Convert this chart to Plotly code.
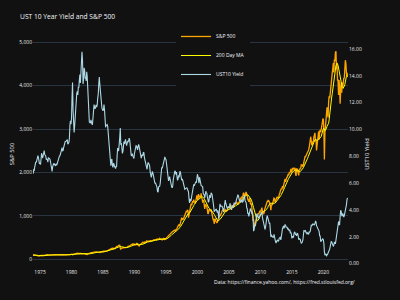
import pandas as pd
import plotly.graph_objects as go

# Monthly 10-year Treasury yield (%), Nov 1973 - Nov 2023
ust10 = [
    6.73, 6.74,
    6.99, 6.96, 7.21, 7.51, 7.58, 7.54, 7.81, 8.04, 8.04, 7.90, 7.68, 7.43,
    7.50, 7.39, 7.73, 8.23, 8.06, 7.86, 8.06, 8.40, 8.43, 8.14, 8.05, 8.00,
    7.74, 7.79, 7.73, 7.56, 7.90, 7.86, 7.83, 7.77, 7.59, 7.41, 7.29, 6.87,
    7.21, 7.39, 7.46, 7.37, 7.46, 7.28, 7.33, 7.40, 7.34, 7.52, 7.58, 7.69,
    7.96, 8.03, 8.04, 8.15, 8.35, 8.46, 8.64, 8.41, 8.42, 8.64, 8.81, 9.01,
    9.10, 9.10, 9.12, 9.18, 9.25, 8.91, 8.95, 9.03, 9.33, 10.30, 10.65, 10.39,
    10.80, 12.41, 13.50, 11.47, 10.18, 9.78, 10.25, 11.10, 11.51, 11.75, 12.68, 12.84,
    12.57, 13.19, 13.12, 13.68, 14.10, 13.47, 14.28, 14.94, 15.80, 15.15, 13.39, 13.72,
    14.59, 14.43, 13.86, 13.87, 13.62, 14.30, 13.95, 13.06, 12.34, 10.91, 10.55, 10.54,
    10.46, 10.72, 10.51, 10.40, 10.38, 10.85, 11.38, 11.85, 11.65, 11.54, 11.69, 11.83,
    11.67, 11.84, 12.32, 12.63, 13.41, 13.90, 13.36, 12.72, 12.52, 12.16, 11.57, 11.50,
    11.38, 11.51, 11.86, 11.43, 10.85, 10.16, 10.31, 10.33, 10.37, 10.24, 9.78, 9.26,
    9.19, 8.70, 7.78, 7.30, 7.71, 7.80, 7.30, 7.17, 7.45, 7.43, 7.25, 7.11,
    7.08, 7.25, 7.25, 8.02, 8.61, 8.40, 8.45, 8.76, 9.42, 10.10, 8.86, 8.99,
    8.67, 8.21, 8.37, 8.72, 9.09, 8.92, 9.06, 9.26, 8.98, 8.80, 8.96, 9.11,
    9.09, 9.17, 9.36, 9.18, 8.86, 8.28, 8.02, 8.11, 8.19, 8.01, 7.87, 7.84,
    8.21, 8.47, 8.59, 8.79, 8.76, 8.48, 8.47, 8.75, 8.89, 8.72, 8.39, 8.08,
    8.09, 7.85, 8.11, 8.04, 8.07, 8.28, 8.27, 7.90, 7.65, 7.53, 7.42, 7.09,
    7.03, 7.34, 7.54, 7.48, 7.39, 7.26, 6.84, 6.59, 6.42, 6.59, 6.87, 6.77,
    6.60, 6.26, 5.98, 5.97, 6.04, 5.96, 5.81, 5.68, 5.36, 5.33, 5.72, 5.77,
    5.75, 5.97, 6.48, 6.97, 7.18, 7.10, 7.30, 7.24, 7.46, 7.74, 7.96, 7.81,
    7.78, 7.47, 7.20, 7.06, 6.63, 6.17, 6.28, 6.49, 6.20, 6.04, 5.93, 5.71,
    5.65, 5.81, 6.27, 6.51, 6.74, 6.91, 6.87, 6.64, 6.83, 6.53, 6.20, 6.30,
    6.58, 6.42, 6.69, 6.89, 6.71, 6.49, 6.22, 6.30, 6.21, 6.03, 5.88, 5.81,
    5.54, 5.57, 5.65, 5.64, 5.65, 5.50, 5.46, 5.34, 4.81, 4.53, 4.83, 4.65,
    4.72, 5.00, 5.23, 5.18, 5.54, 5.90, 5.79, 5.94, 5.92, 6.11, 6.03, 6.28,
    6.66, 6.52, 6.26, 5.99, 6.44, 6.10, 6.05, 5.83, 5.80, 5.74, 5.72, 5.24,
    5.16, 5.10, 4.89, 5.14, 5.39, 5.28, 5.24, 4.97, 4.73, 4.57, 4.65, 5.09,
    5.04, 4.91, 5.28, 5.21, 5.16, 4.93, 4.65, 4.26, 3.87, 3.94, 4.05, 4.03,
    4.05, 3.90, 3.81, 3.96, 3.57, 3.33, 3.98, 4.45, 4.27, 4.29, 4.30, 4.27,
    4.15, 4.08, 3.83, 4.35, 4.72, 4.73, 4.50, 4.28, 4.13, 4.10, 4.19, 4.23,
    4.22, 4.17, 4.50, 4.34, 4.14, 4.00, 4.18, 4.26, 4.20, 4.46, 4.54, 4.47,
    4.42, 4.57, 4.72, 4.99, 5.11, 5.11, 5.09, 4.88, 4.72, 4.73, 4.60, 4.56,
    4.76, 4.72, 4.56, 4.69, 4.75, 5.10, 5.00, 4.67, 4.52, 4.53, 4.15, 4.10,
    3.74, 3.74, 3.51, 3.68, 3.88, 4.10, 4.01, 3.89, 3.69, 3.81, 3.53, 2.42,
    2.52, 2.87, 2.82, 2.93, 3.29, 3.72, 3.56, 3.59, 3.40, 3.39, 3.40, 3.59,
    3.73, 3.69, 3.73, 3.85, 3.42, 3.20, 3.01, 2.70, 2.65, 2.54, 2.76, 3.29,
    3.39, 3.58, 3.41, 3.46, 3.17, 3.00, 3.00, 2.30, 1.98, 2.15, 2.01, 1.98,
    1.97, 1.97, 2.17, 2.05, 1.80, 1.62, 1.53, 1.68, 1.72, 1.75, 1.65, 1.72,
    1.91, 1.98, 1.96, 1.76, 1.93, 2.30, 2.58, 2.74, 2.81, 2.62, 2.72, 2.90,
    2.86, 2.71, 2.72, 2.71, 2.56, 2.60, 2.54, 2.42, 2.53, 2.30, 2.33, 2.21,
    1.88, 1.98, 2.04, 1.94, 2.20, 2.36, 2.32, 2.17, 2.17, 2.07, 2.26, 2.24,
    2.09, 1.78, 1.89, 1.81, 1.81, 1.64, 1.50, 1.56, 1.63, 1.76, 2.14, 2.49,
    2.43, 2.42, 2.48, 2.30, 2.30, 2.19, 2.32, 2.21, 2.20, 2.36, 2.35, 2.40,
    2.58, 2.86, 2.84, 2.87, 2.98, 2.91, 2.89, 2.89, 3.00, 3.15, 3.12, 2.83,
    2.71, 2.68, 2.57, 2.53, 2.40, 2.07, 2.06, 1.63, 1.70, 1.71, 1.81, 1.86,
    1.76, 1.50, 0.87, 0.66, 0.67, 0.73, 0.55, 0.65, 0.68, 0.79, 0.87, 0.93,
    1.08, 1.26, 1.61, 1.64, 1.62, 1.52, 1.32, 1.28, 1.37, 1.58, 1.56, 1.47,
    1.76, 1.93, 2.13, 2.75, 2.90, 3.14, 2.90, 2.90, 3.52, 3.98, 3.89, 3.62,
    3.53, 3.75, 3.66, 3.46, 3.57, 3.75, 3.90, 4.17, 4.38, 4.75, 4.90,
]

# Monthly S&P 500 close, Nov 1973 - Nov 2023
sp500 = [
    95.96, 97.55,
    96.57, 96.22, 93.98, 90.31, 87.28, 86.00, 79.31, 72.15, 63.54, 73.90, 69.97, 68.56,
    76.98, 81.59, 83.36, 87.30, 91.15, 95.19, 88.75, 86.88, 83.87, 89.04, 91.24, 90.19,
    100.86, 99.71, 102.77, 101.64, 100.18, 104.28, 103.44, 102.91, 105.24, 102.90, 102.10, 107.46,
    102.03, 99.82, 98.42, 98.44, 96.12, 100.48, 98.85, 96.77, 96.53, 92.34, 94.83, 95.10,
    89.25, 87.04, 89.21, 96.83, 97.24, 95.53, 100.68, 103.29, 102.54, 93.15, 94.70, 96.11,
    99.93, 96.28, 101.59, 101.76, 99.08, 102.91, 103.81, 109.32, 109.32, 101.82, 106.16, 107.94,
    114.16, 113.66, 102.09, 106.29, 111.24, 114.24, 121.67, 122.38, 125.46, 127.47, 140.52, 135.76,
    129.55, 131.27, 136.00, 132.81, 132.59, 131.21, 130.92, 122.79, 116.18, 121.89, 126.35, 122.55,
    120.40, 113.11, 111.96, 116.44, 111.88, 109.61, 107.09, 119.51, 120.42, 133.71, 138.54, 140.64,
    145.30, 148.06, 152.96, 164.42, 162.39, 168.11, 162.56, 164.40, 166.07, 163.55, 166.40, 164.93,
    163.41, 157.06, 159.18, 160.05, 150.55, 153.18, 150.66, 166.68, 166.10, 166.09, 163.58, 167.24,
    179.63, 181.18, 180.66, 179.83, 189.55, 191.85, 190.92, 188.63, 182.08, 189.82, 202.17, 211.28,
    211.78, 226.92, 238.90, 235.52, 247.35, 250.84, 236.12, 252.93, 231.32, 243.98, 249.22, 242.17,
    274.08, 284.20, 291.70, 288.36, 290.10, 304.00, 318.66, 329.80, 321.83, 251.79, 230.30, 247.08,
    257.07, 267.82, 258.89, 261.33, 262.16, 273.50, 272.02, 261.52, 271.91, 278.97, 273.70, 277.72,
    297.47, 288.86, 294.87, 309.64, 320.52, 317.98, 346.08, 351.45, 349.15, 340.36, 345.99, 353.40,
    329.08, 331.89, 339.94, 330.80, 361.23, 358.02, 356.15, 322.56, 306.05, 304.00, 322.22, 330.22,
    343.93, 367.07, 375.22, 375.34, 389.83, 371.16, 387.81, 395.43, 387.86, 392.46, 375.22, 417.09,
    408.79, 412.70, 403.69, 414.95, 415.35, 408.14, 424.21, 414.03, 417.80, 418.68, 431.35, 435.71,
    438.78, 443.38, 451.67, 440.19, 450.19, 450.53, 448.13, 463.56, 458.93, 467.83, 461.79, 466.45,
    481.61, 467.14, 445.77, 450.91, 456.50, 444.27, 458.26, 475.49, 462.69, 472.35, 453.69, 459.27,
    470.42, 487.39, 500.71, 514.71, 533.40, 544.75, 562.06, 561.88, 584.41, 581.50, 605.37, 615.93,
    636.02, 640.43, 645.50, 654.17, 669.12, 670.63, 639.95, 651.99, 687.33, 705.27, 757.02, 740.74,
    786.16, 790.82, 757.12, 801.34, 848.28, 885.14, 954.29, 899.47, 947.28, 914.62, 955.40, 970.43,
    980.28, 1049.34, 1101.75, 1111.75, 1090.82, 1133.84, 1120.67, 957.28, 1017.01, 1098.67, 1163.63, 1229.23,
    1279.64, 1238.33, 1286.37, 1335.18, 1301.84, 1372.71, 1328.72, 1320.41, 1282.71, 1362.93, 1388.91, 1469.25,
    1394.46, 1366.42, 1498.58, 1452.43, 1420.60, 1454.60, 1430.83, 1517.68, 1436.51, 1429.40, 1314.95, 1320.28,
    1366.01, 1239.94, 1160.33, 1249.46, 1255.82, 1224.42, 1211.23, 1133.58, 1040.94, 1059.78, 1139.45, 1148.08,
    1130.20, 1106.73, 1147.39, 1076.92, 1067.14, 989.82, 911.62, 916.07, 815.28, 885.76, 936.31, 879.82,
    855.70, 841.15, 848.18, 916.92, 963.59, 974.50, 990.31, 1008.01, 995.97, 1050.71, 1058.20, 1111.92,
    1131.13, 1144.94, 1126.21, 1107.30, 1120.68, 1140.84, 1101.72, 1104.24, 1114.58, 1130.20, 1173.82, 1211.92,
    1181.27, 1203.60, 1180.59, 1156.85, 1191.50, 1191.33, 1234.18, 1220.33, 1228.81, 1207.01, 1249.48, 1248.29,
    1280.08, 1280.66, 1294.87, 1310.61, 1270.09, 1270.20, 1276.66, 1303.82, 1335.85, 1377.94, 1400.63, 1418.30,
    1438.24, 1406.82, 1420.86, 1482.37, 1530.62, 1503.35, 1455.27, 1473.99, 1526.75, 1549.38, 1481.14, 1468.36,
    1378.55, 1330.63, 1322.70, 1385.59, 1400.38, 1280.00, 1267.38, 1282.83, 1166.36, 968.75, 896.24, 903.25,
    825.88, 735.09, 797.87, 872.81, 919.14, 919.32, 987.48, 1020.62, 1057.08, 1036.19, 1095.63, 1115.10,
    1073.87, 1104.49, 1169.43, 1186.69, 1089.41, 1030.71, 1101.60, 1049.33, 1141.20, 1183.26, 1180.55, 1257.64,
    1286.12, 1327.22, 1325.83, 1363.61, 1345.20, 1320.64, 1292.28, 1218.89, 1131.42, 1253.30, 1246.96, 1257.60,
    1312.41, 1365.68, 1408.47, 1397.91, 1310.33, 1362.16, 1379.32, 1406.58, 1440.67, 1412.16, 1416.18, 1426.19,
    1498.11, 1514.68, 1569.19, 1597.57, 1630.74, 1606.28, 1685.73, 1632.97, 1681.55, 1756.54, 1805.81, 1848.36,
    1782.59, 1859.45, 1872.34, 1883.95, 1923.57, 1960.23, 1930.67, 2003.37, 1972.29, 2018.05, 2067.56, 2058.90,
    1994.99, 2104.50, 2067.89, 2085.51, 2107.39, 2063.11, 2103.84, 1972.18, 1920.03, 2079.36, 2080.41, 2043.94,
    1940.24, 1932.23, 2059.74, 2065.30, 2096.95, 2098.86, 2173.60, 2170.95, 2168.27, 2126.15, 2198.81, 2238.83,
    2278.87, 2363.64, 2362.72, 2384.20, 2411.80, 2423.41, 2470.30, 2471.65, 2519.36, 2575.26, 2647.58, 2673.61,
    2823.81, 2713.83, 2640.87, 2648.05, 2705.27, 2718.37, 2816.29, 2901.52, 2913.98, 2711.74, 2760.17, 2506.85,
    2704.10, 2784.49, 2834.40, 2945.83, 2752.06, 2941.76, 2980.38, 2926.46, 2976.74, 3037.56, 3140.98, 3230.78,
    3225.52, 2954.22, 2300.00, 2912.43, 3044.31, 3100.29, 3271.12, 3500.31, 3363.00, 3269.96, 3621.63, 3756.07,
    3714.24, 3811.15, 3972.89, 4181.17, 4204.11, 4297.50, 4395.26, 4522.68, 4307.54, 4605.38, 4567.00, 4766.18,
    4796.56, 4373.94, 4530.41, 4131.93, 4132.15, 3785.38, 4130.29, 3955.00, 3585.62, 3871.98, 4080.11, 3839.50,
    4076.60, 3970.15, 4109.31, 4169.48, 4179.83, 4450.38, 4588.96, 4507.66, 4288.05, 4290.00, 4200.00,
]

assert len(ust10) == len(sp500)
dates = pd.date_range("1973-11-01", periods=len(sp500), freq="MS")
# 200 trading days ~ 10 months of monthly closes
ma200 = pd.Series(sp500).rolling(10, min_periods=1).mean().round(2).tolist()

x_range = ["1973-11-20", "2023-12-01"]
y_left_range = [-205, 5055]
y_right_range = [-0.33, 16.67]

fig = go.Figure()
fig.add_trace(go.Scatter(x=dates, y=sp500, name="S&P 500", mode="lines",
                         line=dict(color="orange", width=1.3)))
fig.add_trace(go.Scatter(x=dates, y=ma200, name="200 Day MA", mode="lines",
                         line=dict(color="yellow", width=1)))
fig.add_trace(go.Scatter(x=dates, y=ust10, name="UST10 Yield", mode="lines",
                         line=dict(color="lightblue", width=1.1), yaxis="y2"))

tick_font = dict(size=5, color="#e8e8e8")
fig.update_layout(
    template="plotly_dark",
    width=400, height=300,
    paper_bgcolor="rgb(17,17,17)", plot_bgcolor="rgb(17,17,17)",
    margin=dict(l=33, r=52, t=40, b=32, autoexpand=False),
    font=dict(family="Open Sans", size=5, color="#f2f5fa"),
    title=dict(text="UST 10 Year Yield and S&P 500", x=0.05, xanchor="left",
               y=1 - 17 / 300, yanchor="middle", font=dict(size=6.7, color="#f2f5fa")),
    xaxis=dict(range=x_range, showgrid=False, zeroline=False, tickformat="%Y",
               dtick="M60", tick0="1975-01-01", tickfont=tick_font, ticklabelstandoff=0),
    yaxis=dict(range=y_left_range, dtick=1000, tickformat=",d", tickfont=tick_font,
               gridcolor="#283442", zerolinecolor="#283442", zerolinewidth=1,
               title=dict(text="S&P 500", font=dict(size=5.8), standoff=4)),
    yaxis2=dict(range=y_right_range, dtick=2, tickformat=".2f", tickfont=tick_font,
                overlaying="y", side="right", showgrid=False, zeroline=False,
                title=dict(text="UST10 Yield", font=dict(size=5.8), standoff=4)),
    legend=dict(x=0.454, xanchor="left", y=1.079, yanchor="top",
                font=dict(size=5, color="#f2f5fa"), bgcolor="rgb(17,17,17)",
                tracegroupgap=0),
    annotations=[dict(text="Data: https://finance.yahoo.com/, https://fred.stlouisfed.org/",
                      xref="paper", yref="paper", x=1.0286, xanchor="right",
                      y=-0.0614, yanchor="middle", showarrow=False,
                      font=dict(size=5, color="#f2f5fa"))],
)

fig.write_html("out.html")
